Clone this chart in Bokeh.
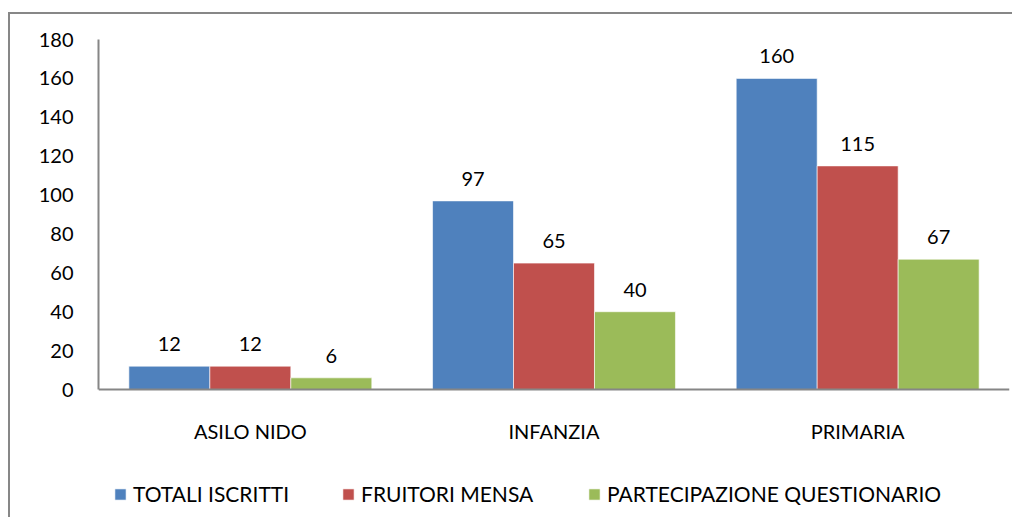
from bokeh.plotting import figure
from bokeh.models import ColumnDataSource, FactorRange, Range1d, Legend, LegendItem, FixedTicker, Span
from bokeh.transform import dodge
from bokeh.core.properties import value
from bokeh.embed import file_html
from bokeh.resources import INLINE

categories = ["ASILO NIDO", "INFANZIA", "PRIMARIA"]
series_names = ["TOTALI ISCRITTI", "FRUITORI MENSA", "PARTECIPAZIONE QUESTIONARIO"]
totali_iscritti = [12, 97, 160]
fruitori_mensa = [12, 65, 115]
partecipazione_questionario = [6, 40, 67]
y_ticks = [0, 20, 40, 60, 80, 100, 120, 140, 160, 180]

colors = ["#4F81BD", "#C0504D", "#9BBB59"]
FONT = "Lato"

src = ColumnDataSource(dict(
    cat=categories,
    zero=[0, 0, 0],
    s0=totali_iscritti,
    s1=fruitori_mensa,
    s2=partecipazione_questionario,
    l0=[str(v) for v in totali_iscritti],
    l1=[str(v) for v in fruitori_mensa],
    l2=[str(v) for v in partecipazione_questionario],
))

# frame: 25..505 px on canvas; 0..180 occupies the top 350 px
y_low = -130 * 180 / 350.0
p = figure(width=1004, height=505, output_backend="svg", toolbar_location=None,
           x_range=FactorRange(*categories, range_padding=0),
           y_range=Range1d(y_low, 180), x_axis_location=None,
           min_border_left=88, min_border_right=5, min_border_top=25,
           min_border_bottom=0)
p.styles = {"margin-left": "8px", "margin-top": "12px",
            "border-top": "2px solid #878787", "border-left": "2px solid #878787"}

p.outline_line_color = None
p.xgrid.grid_line_color = None
p.ygrid.grid_line_color = None
p.background_fill_color = "white"
p.border_fill_color = "white"

# category axis line at zero
p.add_layout(Span(location=0, dimension="width", line_color="#868686", line_width=2))

bw = 0.8 / 3
offsets = [-bw, 0, bw]
renderers = []
for i in range(3):
    r = p.vbar(x=dodge("cat", offsets[i], range=p.x_range), top=f"s{i}", width=bw,
               source=src, fill_color=colors[i], line_color="white", line_width=0.6)
    renderers.append(r)
    p.text(x=dodge("cat", offsets[i], range=p.x_range), y=f"s{i}", text=f"l{i}",
           source=src, text_align="center", text_baseline="bottom", y_offset=-15,
           text_font=value(FONT), text_font_size="20px", text_color="#000000")

# category labels
p.text(x="cat", y="zero", text="cat", source=src, text_align="center",
       text_baseline="middle", y_offset=41, text_font=value(FONT),
       text_font_size="20px", text_color="#000000")

ax = p.yaxis[0]
ax.axis_line_color = "#868686"
ax.axis_line_width = 2
ax.major_tick_line_color = None
ax.minor_tick_line_color = None
ax.major_label_text_font = FONT
ax.major_label_text_font_size = "20px"
ax.major_label_text_color = "#000000"
ax.ticker = FixedTicker(ticks=y_ticks)
ax.bounds = (0, 180)
ax.major_label_standoff = 19

legend_x = [15, 243, 489]
for i in range(3):
    lg = Legend(items=[LegendItem(label=series_names[i], renderers=[renderers[i]])],
                orientation="horizontal", location=(legend_x[i], 13),
                glyph_width=14, glyph_height=14, label_standoff=6,
                padding=0, margin=0, border_line_color=None, background_fill_alpha=0,
                label_text_font=FONT, label_text_font_size="21px",
                label_text_color="#000000")
    p.add_layout(lg)

open("out.html", "w").write(file_html(p, INLINE))
